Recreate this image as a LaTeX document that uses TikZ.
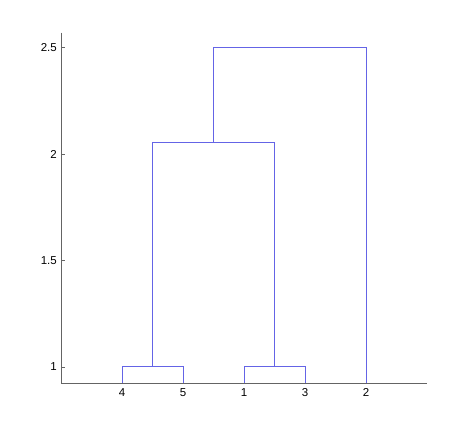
\documentclass[tikz,border=0pt]{standalone}
\usepackage{fontspec}
\setmainfont{Liberation Sans}
\usetikzlibrary{positioning}

\definecolor{linkblue}{RGB}{100,100,230}
\definecolor{axisgray}{RGB}{100,100,100}

\begin{document}
\begin{tikzpicture}[
        every node/.style={font=\fontsize{11.5}{13}\selectfont, inner sep=0pt},
        axisline/.style={axisgray, line width=0.9pt},
        tickmark/.style={axisgray, line width=0.6pt},
        link/.style={linkblue, line width=1pt},
        ylab/.style={anchor=east},
        leaflab/.style={anchor=north}
    ]

    \useasboundingbox (0,0) rectangle (474pt,432pt);

    \begin{scope}[shift={(61pt,-148pt)}, x=61pt, y=213pt]

        % axes
        \coordinate (origin) at (0,0.925);
        \coordinate (ytop) at (0,2.57);
        \coordinate (xend) at (6,0.925);
        \draw[axisline] (ytop) -- (origin) -- (xend);

        % y ticks
        \foreach \v [count=\k] in {1,1.5,2,2.5}{
            \coordinate (yt\k) at (0,\v);
            \draw[tickmark] (yt\k) -- ++(4pt,0);
            \node[ylab, left=4pt of yt\k] (ylab\k) {\v};
        }

        % leaves
        \foreach \lab [count=\i] in {4,5,1,3,2}{
            \coordinate (leaf\lab) at (\i,0.925);
            \node[leaflab, below=5pt of leaf\lab] (lab\lab) {\lab};
        }

        % merge points
        \coordinate (m45) at (1.5,1.002);
        \coordinate (m13) at (3.5,1.002);
        \coordinate (m4513) at (2.5,2.056);
        \coordinate (mall) at (3.75,2.5);

        % links
        \draw[link] (leaf4) |- (m45) -| (leaf5);
        \draw[link] (leaf1) |- (m13) -| (leaf3);
        \draw[link] (m45) |- (m4513) -| (m13);
        \draw[link] (m4513) |- (mall) -| (leaf2);

    \end{scope}

\end{tikzpicture}
\end{document}
